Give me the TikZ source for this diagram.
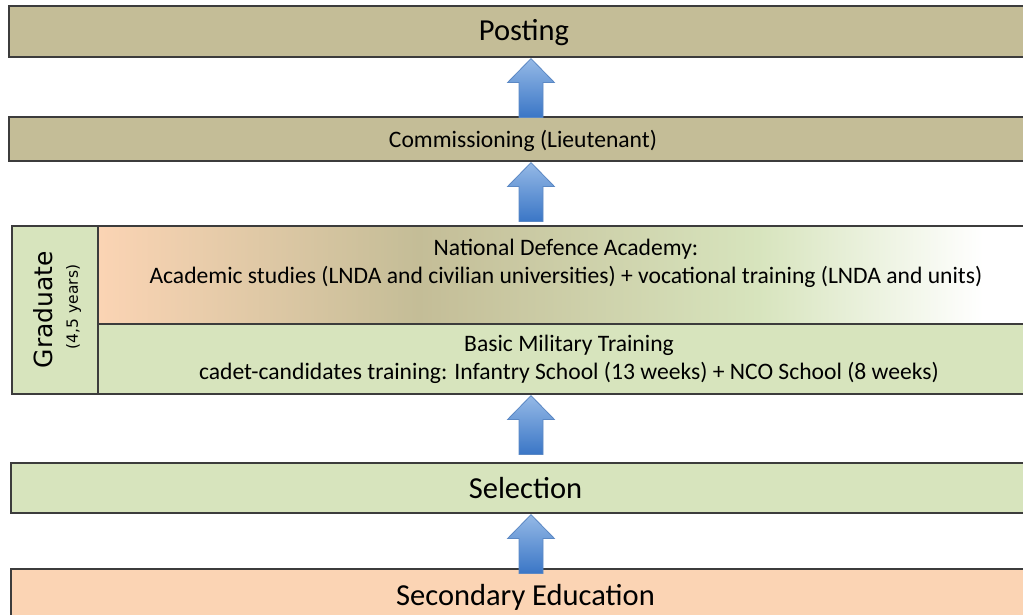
\documentclass[tikz,border=0pt]{standalone}
\usepackage{fontspec}
\setmainfont{Carlito}
\newfontfamily\verd{DejaVu Sans}
\usetikzlibrary{calc}
\definecolor{tanc}{HTML}{C4BD97}
\definecolor{greenc}{HTML}{D7E4BD}
\definecolor{peachc}{HTML}{FBD4B4}
\definecolor{bordc}{HTML}{3C3C3C}
\definecolor{arrlight}{HTML}{95B9E6}
\definecolor{arrdark}{HTML}{3A76C6}
\definecolor{arrline}{HTML}{5B88C4}
\pgfdeclarehorizontalshading{ndashade}{100bp}{color(0bp)=(peachc); color(25bp)=(peachc); color(42bp)=(tanc); color(60bp)=(greenc); color(72bp)=(white); color(100bp)=(white)}
\newcommand\blockarr[1]{%
  \path[arrsty] let \p1=(#1.south) in
    (531pt,\y1-1pt) -- (554.5pt,\y1-25pt) -- (543pt,\y1-25pt) -- (543pt,\y1-60pt)
    -- (519pt,\y1-60pt) -- (519pt,\y1-25pt) -- (507.5pt,\y1-25pt) -- cycle;}
\begin{document}
\begin{tikzpicture}[x=1pt,y=1pt,
  box/.style={draw=bordc, line width=1.2pt, inner sep=0pt, align=center},
  bigtxt/.style={font=\fontsize{30.5}{36}\selectfont},
  smalltxt/.style={font=\fontsize{23.6}{28}\selectfont, align=center},
  arrsty/.style={top color=arrlight, bottom color=arrdark, draw=arrline, line width=0.8pt, line join=miter}]
\useasboundingbox (0,0) rectangle (1023,615);
\fill[white] (0,0) rectangle (1023,615);
% boxes
\node[box, fill=tanc, minimum width=1031pt, minimum height=51pt] (posting) at (524.5,583.5) {};
\node[bigtxt] (postingtxt) at (524,582) {Posting};
\node[box, fill=tanc, minimum width=1031pt, minimum height=44pt] (comm) at (524.5,476) {};
\node[smalltxt] (commtxt) at (523,474) {Commissioning (Lieutenant)};
\node[box, shading=ndashade, minimum width=942pt, minimum height=98pt] (nda) at (569,340) {};
\node[smalltxt] (ndatxt) at ($(nda.center)+(-3,12)$) {National Defence Academy:\\Academic studies (LNDA and civilian universities) + vocational training (LNDA and units)};
\node[box, fill=greenc, smalltxt, minimum width=942pt, minimum height=70pt] (bmt) at (569,256) {Basic Military Training\\cadet-candidates training: Infantry School (13 weeks) + NCO School (8 weeks)};
\node[box, fill=greenc, minimum width=86pt, minimum height=168pt] (gradcol) at (55,305) {};
\node[box, minimum width=1028pt, minimum height=168pt] (grad) at (526,305) {};
\node[rotate=90, inner sep=0pt, font=\verd\fontsize{25}{28}\selectfont] (gradtxt) at (43.5,305.5) {Graduate};
\node[rotate=90, inner sep=0pt, font=\verd\fontsize{15.5}{18}\selectfont] (yrs) at (73.5,308) {(4,5 years)};
\node[box, fill=greenc, bigtxt, minimum width=1029pt, minimum height=50pt] (sel) at (525.5,127) {Selection};
\node[box, fill=peachc, bigtxt, minimum width=1029pt, minimum height=56pt] (sec) at (525.5,18) {Secondary Education};
% arrows
\blockarr{posting}
\blockarr{comm}
\blockarr{grad}
\blockarr{sel}
\end{tikzpicture}
\end{document}
